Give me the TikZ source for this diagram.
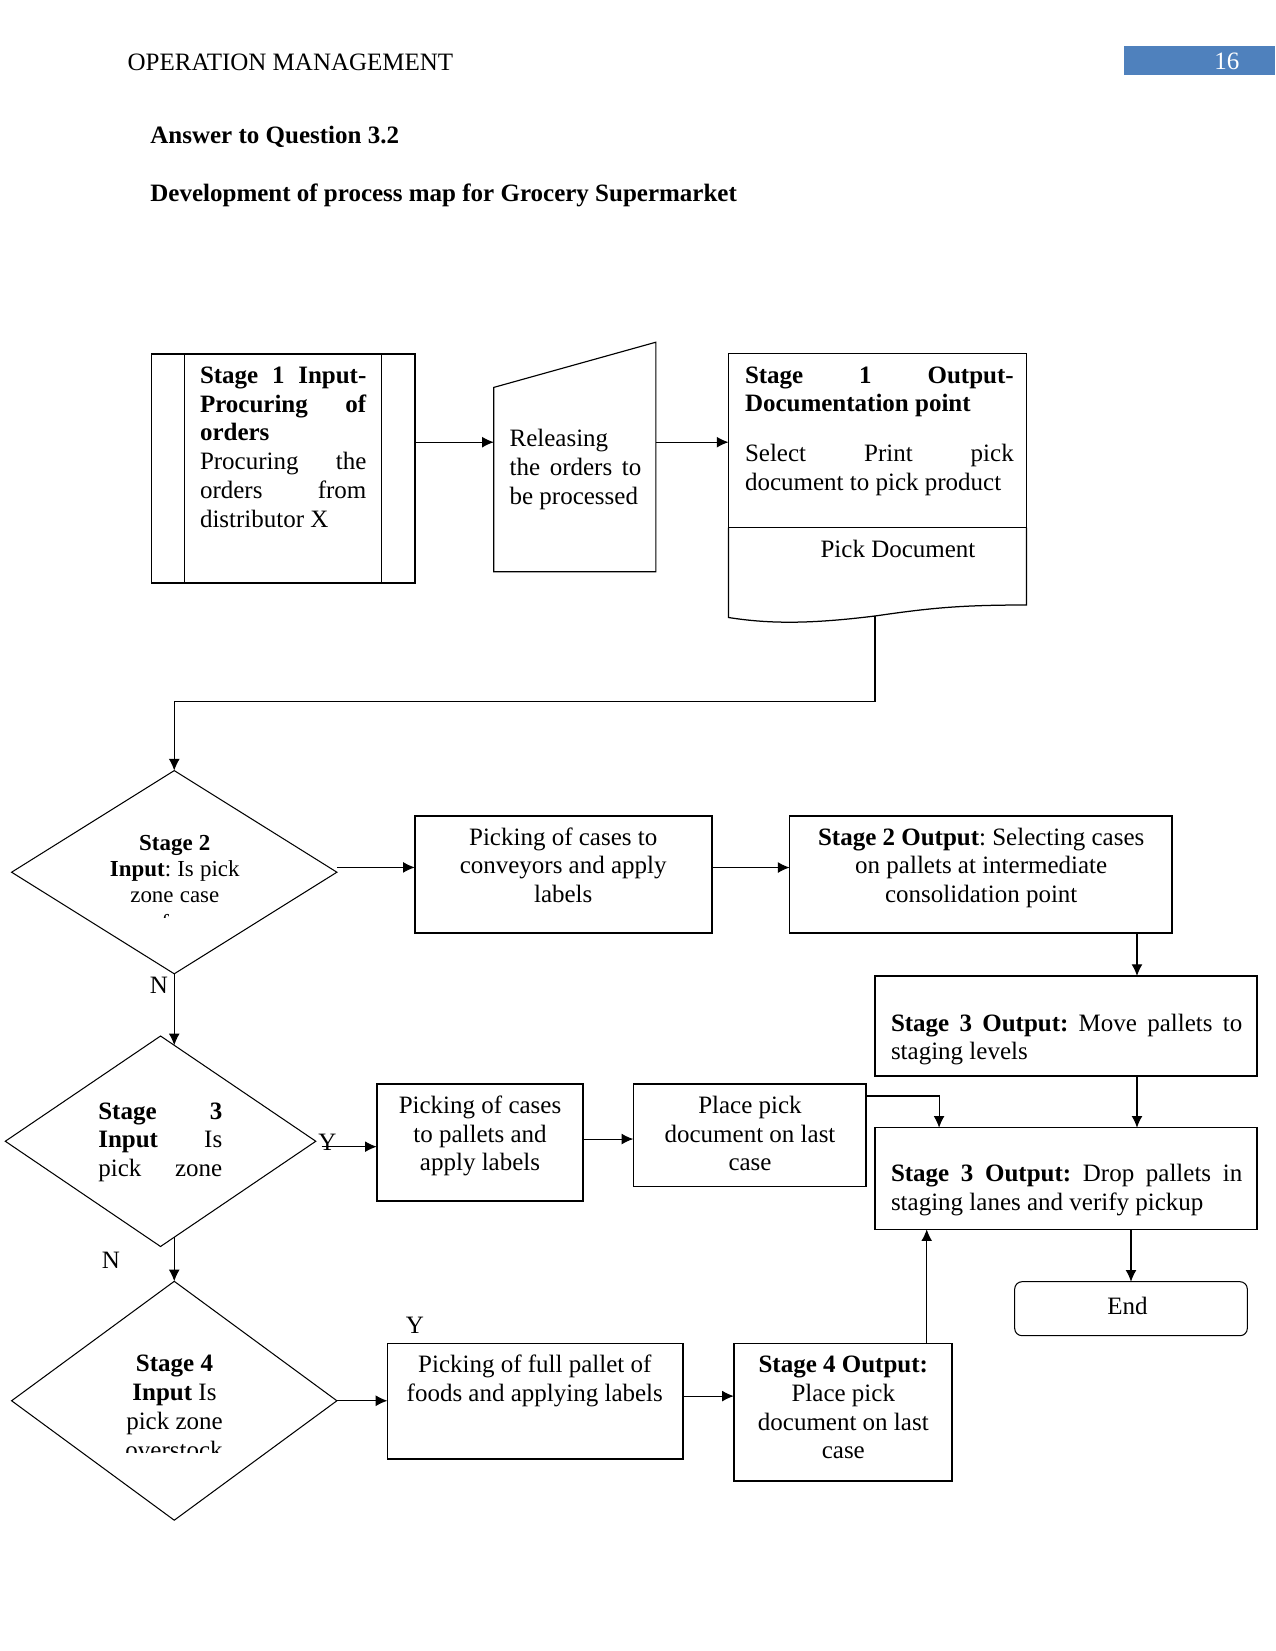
\documentclass[tikz,border=0pt]{standalone}
\usepackage{fontspec}
\setmainfont{Liberation Serif}
\usetikzlibrary{arrows.meta,shapes.geometric,calc}
\definecolor{hdrblue}{RGB}{79,129,189}
\newcommand{\J}[2]{\leavevmode\hbox to #1{\spaceskip=3pt plus 1fil\relax\xspaceskip=3pt plus 1fil\relax #2}}
\frenchspacing
\begin{document}
\begin{tikzpicture}[x=0.48pt,y=-0.48pt,
  txt/.style={inner sep=0pt, outer sep=0pt, font=\fontsize{12}{13.8}\selectfont,
    execute at begin node={\spaceskip=3pt\relax\xspaceskip=3pt\relax}},
  arr/.style={-{Latex[length=5.6pt,width=5.2pt]}, line width=0.5pt},
  boxk/.style={draw, line width=0.8pt, inner sep=0pt, outer sep=0pt},
  boxm/.style={draw, line width=0.65pt, inner sep=0pt, outer sep=0pt},
  boxn/.style={draw, line width=0.5pt, inner sep=0pt, outer sep=0pt},
  dia/.style={draw, diamond, line width=0.5pt, inner sep=0pt, outer sep=0pt}]
\useasboundingbox (0,0) rectangle (1275,1651);
\fill[white] (0,0) rectangle (1275,1651);

% header
\node[txt, anchor=base west] (hdr) at (127.6,70.7) {OPERATION MANAGEMENT};
\node[fill=hdrblue, inner sep=0pt, outer sep=0pt, minimum width=72.29pt, minimum height=13.92pt] (pgbox) at (1199.7,60.5) {};
\node[txt, anchor=base, text=white] (pgnum) at (1226.8,69.3) {16};
\node[txt, anchor=base west, font=\fontsize{12}{13.8}\selectfont\bfseries] (ans) at (150.4,144) {Answer to Question 3.2};
\node[txt, anchor=base west, font=\fontsize{12}{13.8}\selectfont\bfseries] (dev) at (150.4,201.7) {Development of process map for Grocery Supermarket};

% Stage 1 input
\node[boxk, minimum width=126.34pt, minimum height=110.21pt] (s1in) at (283.2,468.5) {};
\draw[line width=0.5pt] ([xshift=15.65pt]s1in.north west) -- ([xshift=15.65pt]s1in.south west);
\draw[line width=0.5pt] ([xshift=-16.18pt]s1in.north east) -- ([xshift=-16.18pt]s1in.south east);
\node[txt, text width=79.87pt, align=left, anchor=north west] (s1int) at (200,363.2)
  {\strut\J{79.87pt}{\textbf{Stage 1 Input-}}\\\J{79.87pt}{\textbf{Procuring of}}\\\textbf{orders}\\\J{79.87pt}{Procuring the}\\\J{79.87pt}{orders from}\\distributor X};

% Releasing (manual input)
\draw[line width=0.55pt] (493.8,387.4) -- (655.9,342.2) -- (655.9,571.7) -- (493.8,571.7) -- cycle;
\coordinate (relW) at (493.8,442.2);
\coordinate (relE) at (655.9,442.2);
\node[txt, text width=63.2pt, align=left, anchor=north west] (relt) at (509.6,426.6)
  {\strut Releasing\\\J{63.2pt}{the orders to}\\be processed};

% Stage 1 output (document)
\node[boxn, line width=0.6pt, minimum width=143.04pt, minimum height=83.42pt] (s1o) at (877.5,440.6) {};
\draw[line width=0.8pt] (s1o.south west) -- (s1o.south east);
\draw[line width=0.6pt] (s1o.south west) -- (728.5,617.5) .. controls (770,624) and (810,624) .. (875,616)
   .. controls (930,608) and (960,605) .. (1026.5,605) -- (s1o.south east);
\coordinate (docb) at (875,616);
\coordinate (bend) at (875,701.2);
\node[txt, text width=129pt, align=left, anchor=north west] (s1ot) at (745,363)
  {\strut\J{129pt}{\textbf{Stage 1 Output-}}\\\textbf{Documentation point}\\[10.2pt]\J{129pt}{Select Print pick}\\document to pick product};
\node[txt, anchor=base] (pdt) at (898,557.7) {Pick Document};

\draw[arr] (s1in.east |- relW) -- (relW);
\draw[arr] (relE) -- (s1o.west |- relE);

% Stage 2 decision
\node[dia, minimum width=156.14pt, minimum height=97.54pt] (d2) at (174.25,872.2) {};
\node[txt, font=\fontsize{11}{12.7}\selectfont, text width=80pt, align=center, anchor=north] (d2t) at (174.8,831.5)
  {\strut\textbf{Stage 2}\\\textbf{Input}: Is pick\\zone case};
\begin{scope}
\clip (120,900) rectangle (230,917);
\node[txt, font=\fontsize{11}{12.7}\selectfont, anchor=base] (d2x) at (174.8,930) {for};
\end{scope}
\draw[arr] (docb) -- (bend) -| (d2.north);
\node[txt, anchor=base] (n1) at (159,993) {N};

% Stage 2 row
\node[boxk, minimum width=142.51pt, minimum height=56.06pt] (conv) at (563.25,874.4) {};
\node[txt, text width=140pt, align=center, anchor=north] (convt) at (563.2,825)
  {\strut Picking of cases to\\conveyors and apply\\labels};
\node[boxk, minimum width=183.46pt, minimum height=56.06pt] (s2o) at (980.7,874.4) {};
\node[txt, text width=180pt, align=center, anchor=north] (s2ot) at (981.2,825)
  {\strut\textbf{Stage 2 Output}: Selecting cases\\on pallets at intermediate\\consolidation point};
\draw[arr] ([yshift=2.3pt]d2.east) -- ([yshift=2.3pt]d2.east -| conv.west);
\draw[arr] ([yshift=3.3pt]conv.east) -- ([yshift=3.3pt]conv.east -| s2o.west);

% Stage 3 outputs
\node[boxm, minimum width=183.41pt, minimum height=48pt] (s3a) at (1065.95,1026) {};
\node[txt, text width=168.6pt, align=left, anchor=north west] (s3at) at (891,1010.9)
  {\strut\J{168.6pt}{\textbf{Stage 3 Output:} Move pallets to}\\staging levels};
\node[boxm, minimum width=183.41pt, minimum height=48.77pt] (s3b) at (1065.95,1178.5) {};
\node[txt, text width=168.6pt, align=left, anchor=north west] (s3bt) at (891,1161.6)
  {\strut\J{168.6pt}{\textbf{Stage 3 Output:} Drop pallets in}\\staging lanes and verify pickup};
\coordinate (c1) at ([xshift=34.1pt]s3a.north);
\draw[arr] (c1 |- s2o.south) -- (c1);
\draw[arr] ([xshift=34.1pt]s3a.south) -- ([xshift=34.1pt]s3a.south |- s3b.north);

% End
\node[boxn, rounded corners=3.5pt, minimum width=111.65pt, minimum height=25.92pt] (endn) at (1131,1308.7) {};
\node[txt, anchor=base] (endt) at (1127.5,1314) {End};
\draw[arr] (endn.north |- s3b.south) -- (endn.north);

% Stage 3 decision
\node[dia, minimum width=149.04pt, minimum height=101.04pt] (d3) at (160.55,1141.25) {};
\node[txt, text width=59.5pt, align=left, anchor=north west] (d3t) at (98.3,1098.9)
  {\strut\J{59.5pt}{\textbf{Stage 3}}\\\J{59.5pt}{\textbf{Input} Is}\\\J{59.5pt}{pick zone}};
\coordinate (d3e) at ($(d3.north)!0.0882!(d3.east)$);
\draw[arr] (d2.south) -- (d2.south |- d3e);
\node[txt, anchor=base] (y1) at (327.5,1150.5) {Y};
\node[txt, anchor=base] (n2) at (111,1268.3) {N};

\node[boxk, minimum width=99.17pt, minimum height=56.02pt] (pal) at (480,1142.35) {};
\node[txt, text width=98pt, align=center, anchor=north] (palt) at (480,1093.2)
  {\strut Picking of cases\\to pallets and\\apply labels};
\node[boxn, minimum width=111.7pt, minimum height=49.1pt] (ppd) at (749.65,1135.15) {};
\node[txt, text width=110pt, align=center, anchor=north] (ppdt) at (750,1093.2)
  {\strut Place pick\\document on last\\case};
\coordinate (d3r) at ([xshift=2.8pt,yshift=-2.6pt]d3.east);
\draw[arr] (d3r) -- (d3r -| pal.west);
\draw[arr] ([yshift=1.6pt]pal.east) -- ([yshift=1.6pt]pal.east -| ppd.west);
\draw[arr] ([yshift=18.8pt]ppd.east) -| ([xshift=30.8pt]s3b.north west);

% Stage 4 decision
\node[dia, minimum width=156.14pt, minimum height=114.67pt] (d4) at (174.25,1400.75) {};
\node[txt, text width=80pt, align=center, anchor=north] (d4t) at (174.5,1351.6)
  {\strut\textbf{Stage 4}\\\textbf{Input} Is\\pick zone};
\begin{scope}
\clip (100,1435) rectangle (250,1452.7);
\node[txt, anchor=base] (d4x) at (174,1458) {overstock};
\end{scope}
\coordinate (d3s) at ($(d3.south)!0.0882!(d3.east)$);
\draw[arr] (d4.north |- d3s) -- (d4.north);
\node[txt, anchor=base] (y2) at (414.8,1333) {Y};

\node[boxk, minimum width=142.03pt, minimum height=55.58pt] (fp) at (535.35,1401.3) {};
\node[txt, text width=140pt, align=center, anchor=north] (fpt) at (534.8,1352.4)
  {\strut Picking of full pallet of\\foods and applying labels};
\node[boxk, minimum width=104.59pt, minimum height=66.19pt] (s4o) at (842.75,1412.35) {};
\node[txt, text width=104pt, align=center, anchor=north] (s4ot) at (843.3,1352.4)
  {\strut\textbf{Stage 4 Output:}\\Place pick\\document on last\\case};
\draw[arr] (d4.east) -- (d4.east -| fp.west);
\draw[arr] ([yshift=2.5pt]fp.east) -- ([yshift=2.5pt]fp.east -| s4o.west);
\draw[arr] ([xshift=40.3pt]s4o.north) -- ([xshift=40.3pt]s4o.north |- s3b.south);
\end{tikzpicture}
\end{document}
